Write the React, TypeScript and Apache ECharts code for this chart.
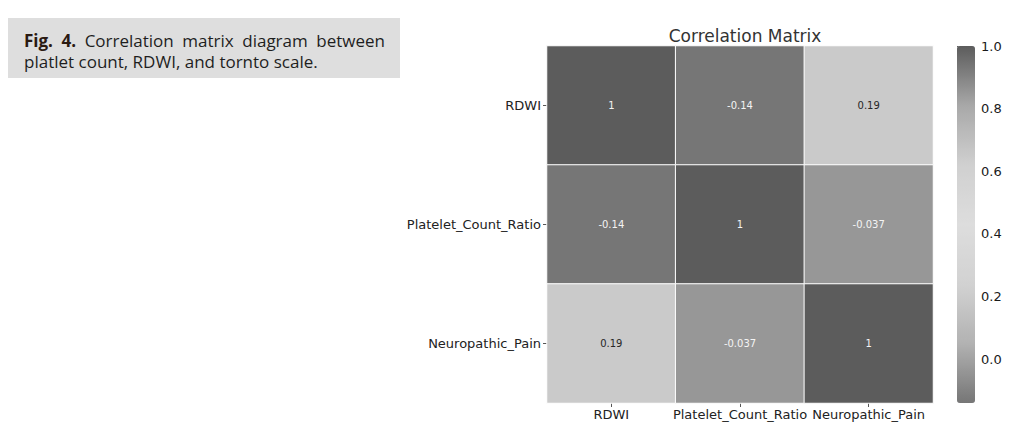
import React, { useEffect, useRef } from "react";
import * as echarts from "echarts";

const variables = ["RDWI", "Platelet_Count_Ratio", "Neuropathic_Pain"];
const rowRDWI = [1, -0.14, 0.19];
const rowPlatelet = [-0.14, 1, -0.037];
const rowPain = [0.19, -0.037, 1];
const matrixRows = [rowRDWI, rowPlatelet, rowPain];
const colorbarTicks = [0, 0.2, 0.4, 0.6, 0.8, 1.0];
const scaleMin = -0.14;
const scaleMax = 1.0;
const titleText = "Correlation Matrix";
const captionBoldWords = ["Fig.", "4."];
const captionLine1Words = ["Correlation", "matrix", "diagram", "between"];
const captionLine2 = "platlet count, RDWI, and tornto scale.";

export default function App() {
  const ref = useRef<HTMLDivElement>(null);
  useEffect(() => {
    if (!ref.current) return;
    const chart = echarts.init(ref.current, null, { renderer: "svg" });
    const data: any[] = [];
    matrixRows.forEach((row, r) => {
      row.forEach((v, c) => {
        const light = v > 0.1 && v < 0.8;
        data.push({
          value: [c, r, v],
          label: { color: light ? "#262626" : "#f4f4f4" },
        });
      });
    });
    const font = "DejaVu Sans";
    const capFont = "Open Sans";
    const capSize = 17;

    // justify caption line 1 across the box width
    const canvas = document.createElement("canvas");
    const ctx = canvas.getContext("2d")!;
    const words = [
      ...captionBoldWords.map((w) => ({ w, bold: true })),
      ...captionLine1Words.map((w) => ({ w, bold: false })),
    ];
    const widths = words.map((it) => {
      ctx.font = `${it.bold ? "bold " : ""}${capSize}px "${capFont}"`;
      return ctx.measureText(it.w).width;
    });
    const lineLeft = 24;
    const lineRight = 385;
    const total = widths.reduce((a, b) => a + b, 0);
    const gap = (lineRight - lineLeft - total) / (words.length - 1);
    let cx = lineLeft;
    const wordGraphics: any[] = words.map((it, i) => {
      const g = {
        type: "text",
        x: cx,
        y: 40,
        style: {
          text: it.w,
          fontFamily: capFont,
          fontSize: capSize,
          fontWeight: it.bold ? "bold" : "normal",
          fill: it.bold ? "#2a1a12" : "#1e1e1e",
          verticalAlign: "middle",
        },
      };
      cx += widths[i] + gap;
      return g;
    });

    chart.setOption({
      animation: false,
      backgroundColor: "#ffffff",
      title: {
        text: titleText,
        left: 740,
        top: 22,
        textAlign: "center",
        textStyle: { fontFamily: font, fontSize: 17, fontWeight: "normal", color: "#333333" },
      },
      grid: [
        { left: 547, top: 46, width: 386, height: 357 },
        { left: 957, top: 46, width: 18, height: 357 },
      ],
      xAxis: [
        {
          type: "category",
          gridIndex: 0,
          data: variables,
          position: "bottom",
          axisLine: { show: false },
          axisTick: { show: true, alignWithLabel: true, length: 4, lineStyle: { color: "#555" } },
          axisLabel: { fontFamily: font, fontSize: 13, color: "#222222", margin: 5, interval: 0 },
          splitLine: { show: false },
        },
        { type: "value", gridIndex: 1, show: false, min: 0, max: 1 },
      ],
      yAxis: [
        {
          type: "category",
          gridIndex: 0,
          data: variables,
          inverse: true,
          axisLine: { show: false },
          axisTick: { show: true, alignWithLabel: true, length: 4, lineStyle: { color: "#555" } },
          axisLabel: { fontFamily: font, fontSize: 13, color: "#222222", margin: 6 },
          splitLine: { show: false },
        },
        {
          type: "value",
          gridIndex: 1,
          position: "right",
          min: scaleMin,
          max: scaleMax,
          axisLine: { show: false },
          splitLine: { show: false },
          axisTick: { show: true, customValues: colorbarTicks, length: 4, lineStyle: { color: "#555" } },
          axisLabel: {
            show: true,
            customValues: colorbarTicks,
            fontFamily: font,
            fontSize: 13,
            color: "#1a1a1a",
            margin: 6,
            formatter: (v: number) => v.toFixed(1),
          },
        },
      ],
      visualMap: {
        type: "continuous",
        min: scaleMin,
        max: scaleMax,
        dimension: 2,
        seriesIndex: 0,
        calculable: false,
        left: 957,
        top: 46,
        padding: 0,
        itemWidth: 18,
        itemHeight: 357,
        text: null,
        inRange: {
          color: ["#767676", "#b2b2b2", "#d2d2d2", "#dddddd", "#d0d0d0", "#a8a8a8", "#5c5c5c"],
        },
      },
      series: [
        {
          type: "heatmap",
          xAxisIndex: 0,
          yAxisIndex: 0,
          data,
          itemStyle: { borderColor: "#ffffff", borderWidth: 1 },
          label: {
            show: true,
            fontFamily: font,
            fontSize: 10,
            formatter: (p: any) => String(p.value[2]),
          },
          emphasis: { disabled: true },
        },
      ],
      graphic: [
        {
          type: "rect",
          shape: { x: 8, y: 18, width: 392, height: 60 },
          style: { fill: "#dedede" },
          silent: true,
        },
        ...wordGraphics,
        {
          type: "text",
          x: 24,
          y: 61,
          style: {
            text: captionLine2,
            fontFamily: capFont,
            fontSize: capSize,
            fill: "#1e1e1e",
            verticalAlign: "middle",
          },
        },
      ],
    });
    return () => chart.dispose();
  }, []);
  return (
    <div
      ref={ref}
      style={{ position: "fixed", left: 0, top: 0, width: 1028, height: 436 }}
    />
  );
}
